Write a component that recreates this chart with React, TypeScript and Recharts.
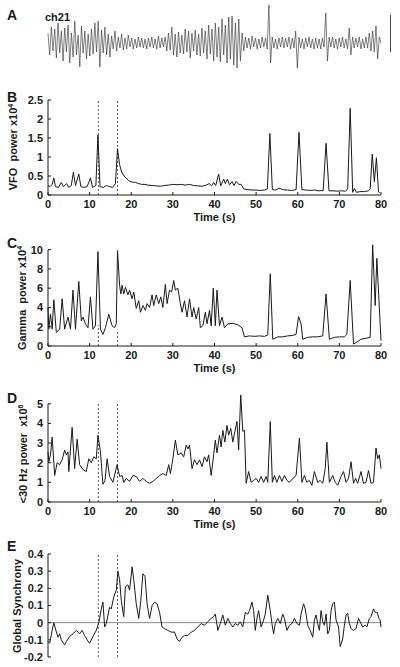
import React from 'react';
import { LineChart, Line, XAxis, YAxis, ReferenceLine } from 'recharts';

const FONT = '"Liberation Sans", Arial, Helvetica, sans-serif';
const INK = '#1a1a1a';

// panel A: ch21 raw trace, one sample every ~0.4 s
const rawTrace = [
  10, -12, 16, -8, 14, -15, 20, -10, 12, -18,
  15, -9, 18, -20, 10, -14, 22, -12, 8, -24,
  17, -10, 12, -16, 9, -13, 14, -11, 20, -9,
  22, -24, 13, -10, 16, -12, 9, -14, 7, -6,
  12, -8, 6, -5, 9, -7, 5, -6, 8, -4,
  5, -6, 4, -5, 6, -4, 5, -5, 4, -6,
  5, -4, 6, -5, 4, -6, 7, -5, 5, -4,
  6, -8, 10, -7, 16, -12, 9, -14, 11, -10,
  8, -11, 14, -9, 12, -15, 10, -8, 13, -12,
  9, -13, 15, -10, 12, -16, 18, -11, 14, -18,
  20, -14, 16, -19, 24, -12, 18, -20, 26, -16,
  27, -22, 20, -25, 24, -18, 10, -8, 6, -5,
  5, -6, 7, -4, 5, -6, 4, -5, 6, -4,
  5, -6, 38, -20, 6, -5, 4, -6, 5, -4,
  6, -5, 5, -4, 6, -6, 5, -5, 12, -25,
  6, -5, 4, -6, 5, -4, 6, -5, 4, -6,
  5, -5, 4, -6, 5, -4, 30, -18, 6, -4,
  6, -5, 4, -6, 5, -4, 6, -5, 4, -6,
  15, -12, 6, -5, 5, -4, 6, -6, 4, -5,
  6, -5, 10, -8, 12, -9, 17, -16, 6, 0,
];

const timeTicks = [0, 10, 20, 30, 40, 50, 60, 70, 80];
const markerTimes = [12.1, 16.7];

// B: VFO power (x10^4), [time s, value]
const vfoPower: [number, number][] = [
  [0, 0.25], [0.5, 0.22], [1, 0.28], [1.4, 0.45], [1.8, 0.22], [2.5, 0.2], [3.2, 0.33], [3.7, 0.22],
  [4.5, 0.3], [5, 0.2], [5.6, 0.25], [6.1, 0.6], [6.6, 0.25], [7.4, 0.55], [7.9, 0.22], [8.6, 0.2],
  [9.4, 0.22], [10.2, 0.45], [10.7, 0.2], [11.5, 0.25], [12.0, 1.58], [12.5, 0.22], [13.3, 0.2],
  [14, 0.25], [14.8, 0.22], [15.5, 0.2], [16.2, 0.3], [16.7, 1.22], [17.2, 0.8], [17.7, 0.6],
  [18.3, 0.5], [19, 0.42], [19.6, 0.36], [20.3, 0.34], [21, 0.33], [21.8, 0.3], [22.5, 0.28],
  [23.3, 0.28], [24, 0.26], [25, 0.25], [26, 0.24], [27, 0.23], [28, 0.25], [29, 0.26], [30, 0.28],
  [31, 0.27], [32, 0.28], [33, 0.26], [34, 0.28], [35, 0.25], [36, 0.24], [37, 0.23], [38, 0.26],
  [38.7, 0.3], [39.3, 0.24], [39.8, 0.33], [40.3, 0.25], [41, 0.55], [41.5, 0.24], [42.2, 0.42],
  [42.6, 0.3], [43.1, 0.42], [43.6, 0.27], [44.2, 0.35], [44.7, 0.25], [45.2, 0.36], [45.8, 0.28],
  [46.4, 0.28], [47, 0.16], [48, 0.14], [49, 0.13], [50, 0.13], [51, 0.12], [52, 0.13], [52.7, 0.16],
  [53.3, 1.62], [53.9, 0.14], [54.7, 0.13], [55.5, 0.18], [56.5, 0.14], [57.5, 0.13], [58.5, 0.12],
  [59.6, 0.14], [60.3, 1.65], [61, 0.14], [62, 0.13], [63, 0.12], [64, 0.13], [65, 0.11], [66.1, 0.12],
  [66.8, 1.36], [67.5, 0.11], [68.5, 0.11], [69.5, 0.1], [70.5, 0.11], [71.5, 0.1], [72.0, 0.16],
  [72.6, 2.28], [73.2, 0.07], [73.6, 0.17], [74.1, 0.07], [75, 0.09], [76, 0.09], [77, 0.11],
  [77.4, 0.16], [77.9, 1.08], [78.4, 0.35], [78.9, 0.98], [79.4, 0.08], [79.7, 0.06],
];

// C: gamma power (x10^4)
const gammaPower: [number, number][] = [
  [0, 4.0], [0.2, 1.75], [0.6, 3.3], [1, 1.75], [1.4, 4.8], [2, 1.4], [2.8, 1.75], [3.4, 4.9],
  [4, 1.75], [4.8, 3.0], [5.4, 1.75], [6, 5.8], [6.6, 1.75], [7.4, 6.7], [8, 2.6], [8.4, 3.0],
  [9, 2.3], [9.6, 1.9], [10.2, 5.1], [10.8, 1.75], [11.4, 2.1], [12, 9.8], [12.6, 1.75], [13.2, 1.2],
  [13.8, 1.9], [14.6, 3.3], [15.4, 2.1], [16, 1.9], [16.4, 2.3], [16.7, 9.9], [17.2, 6.3], [17.5, 5.4],
  [17.8, 6.3], [18.2, 5.4], [18.6, 6.1], [19.2, 5.3], [19.6, 5.8], [20.2, 4.9], [20.6, 5.6],
  [21.2, 3.9], [21.8, 4.7], [22.2, 3.5], [22.8, 4.2], [23.4, 3.7], [23.8, 4.4], [24.4, 4.0],
  [25, 5.3], [25.4, 4.2], [26, 5.3], [26.6, 4.4], [27.1, 5.1], [27.6, 4.0], [28.2, 6.4], [28.6, 4.4],
  [29.2, 5.8], [29.7, 5.6], [30.2, 6.8], [30.6, 5.8], [31.2, 6.0], [31.8, 4.4], [32.2, 3.5],
  [32.8, 4.7], [33.4, 3.0], [34, 4.9], [34.6, 3.0], [35, 4.0], [35.6, 2.8], [36.2, 4.0], [36.6, 1.9],
  [37.2, 2.1], [37.8, 3.5], [38.2, 2.3], [38.8, 3.7], [39.2, 2.1], [39.7, 6.0], [40.2, 2.1],
  [40.6, 5.8], [41.2, 2.1], [41.8, 3.0], [42.4, 1.9], [43.2, 2.3], [44.4, 2.35], [45.6, 2.2],
  [46.6, 1.9], [47.2, 0.95], [48.4, 1.05], [49.6, 1.0], [50.8, 1.05], [52, 1.0], [52.8, 1.15],
  [53.4, 7.5], [54, 0.7], [55.2, 0.95], [56.4, 0.95], [57.6, 1.05], [58.8, 1.1], [59.6, 1.2],
  [60.2, 3.05], [60.8, 2.3], [61.2, 0.7], [62.4, 0.9], [63.6, 0.95], [64.8, 0.95], [66, 1.05],
  [66.8, 5.4], [67.6, 0.7], [68.8, 0.9], [70, 0.95], [71.2, 0.95], [71.8, 1.2], [72.6, 6.8],
  [73.4, 0.2], [74, 0.35], [75.2, 0.7], [76.4, 0.8], [77.4, 0.9], [78, 10.5], [78.6, 4.2],
  [79, 9.1], [80, 0.55],
];

// D: <30 Hz power (x10^6)
const lowPower: [number, number][] = [
  [0, 2.55], [0.2, 2.05], [0.6, 2.4], [1.0, 3.3], [1.6, 1.35], [2.2, 2.0], [2.8, 1.9], [3.4, 2.15],
  [4.0, 2.65], [4.4, 2.4], [4.8, 2.55], [5.0, 1.55], [5.4, 2.7], [5.8, 3.8], [6.4, 1.7], [7.0, 3.2],
  [7.6, 1.9], [8.4, 1.65], [9.2, 1.55], [9.8, 2.2], [10.4, 2.0], [11, 2.3], [11.6, 2.2], [12.0, 3.4],
  [12.6, 2.55], [13.2, 0.9], [13.7, 1.1], [14.2, 2.2], [14.8, 1.3], [15.6, 1.0], [16.6, 1.9],
  [17.2, 1.3], [17.8, 1.35], [18.2, 1.0], [18.8, 1.2], [19.6, 1.05], [20.4, 1.35], [21.2, 1.3],
  [22, 1.05], [22.8, 1.2], [23.6, 1.05], [24.4, 0.95], [25.2, 1.05], [26, 1.2], [26.8, 1.35],
  [27.6, 1.45], [28.4, 1.35], [29, 1.9], [29.4, 1.45], [30, 2.2], [30.6, 3.15], [31.2, 2.4],
  [32, 2.5], [32.6, 2.3], [33.2, 2.9], [33.6, 2.7], [34, 2.9], [34.6, 1.7], [35.2, 2.15],
  [35.8, 1.9], [36.4, 2.15], [37, 1.8], [37.6, 2.3], [38.2, 2.05], [38.6, 2.4], [39.2, 1.35],
  [39.8, 2.4], [40.2, 3.15], [40.6, 2.5], [41.2, 3.4], [41.6, 2.8], [42, 3.65], [42.5, 3.05],
  [43, 3.9], [43.4, 3.4], [43.9, 3.75], [44.4, 3.05], [44.9, 3.6], [45.4, 4.1], [45.8, 2.65],
  [46.3, 5.45], [46.8, 3.6], [47.2, 3.65], [47.6, 0.95], [48.2, 1.55], [48.8, 1.0], [49.4, 1.1],
  [50, 1.2], [50.6, 1.0], [51.2, 1.3], [51.8, 1.0], [52.4, 1.3], [52.8, 1.0], [53.4, 4.1],
  [53.9, 1.0], [54.4, 1.35], [55, 1.0], [55.6, 1.35], [56.2, 1.05], [56.8, 1.35], [57.4, 1.1],
  [58, 1.0], [58.8, 1.2], [59.6, 1.35], [60.4, 3.25], [61, 1.0], [61.6, 1.35], [62.2, 1.0],
  [62.8, 1.1], [63.4, 0.85], [64, 1.55], [64.8, 1.0], [65.4, 1.1], [66, 0.95], [66.6, 1.7],
  [67, 3.05], [67.6, 1.0], [68.4, 1.35], [69, 1.0], [69.6, 0.85], [70.4, 1.3], [71, 1.55],
  [71.6, 1.0], [72.2, 1.2], [72.8, 2.05], [73.4, 0.95], [73.9, 1.2], [74.4, 0.95], [75.2, 1.55],
  [75.8, 0.95], [76.4, 1.0], [77, 1.6], [77.6, 0.95], [78.2, 1.0], [78.8, 2.75], [79.2, 2.2],
  [79.6, 2.4], [80, 1.7],
];

// E: global synchrony
const synchrony: [number, number][] = [
  [0, -0.11], [0.4, -0.12], [1, -0.045], [1.4, 0], [1.9, -0.045], [2.4, -0.085], [2.8, -0.065],
  [3.2, -0.1], [4, -0.13], [4.4, -0.11], [5.2, -0.08], [6, -0.065], [6.8, -0.045], [7.6, -0.065],
  [8.2, -0.045], [8.8, -0.075], [9.4, -0.1], [10, -0.12], [10.8, -0.08], [11.6, -0.045], [12.2, 0],
  [12.8, 0.08], [13.2, 0.12], [13.6, -0.025], [14, -0.005], [14.8, 0.09], [15.2, 0.08], [15.8, 0.15],
  [16.4, 0.19], [16.8, 0.3], [17.2, 0.25], [17.6, 0.13], [18.2, 0.035], [18.6, 0.21], [19.2, 0.22],
  [19.6, 0.19], [20.2, 0.325], [20.6, 0.25], [21.2, 0.11], [21.8, 0.025], [22.3, 0.13], [22.8, 0.285],
  [23.3, 0.27], [23.8, 0.11], [24.4, 0.025], [25, 0.1], [25.6, 0.12], [26.2, 0.11], [26.8, 0.06],
  [27.4, -0.025], [28, -0.035], [28.8, -0.045], [29.6, -0.055], [30.4, -0.055], [31, -0.095],
  [31.6, -0.11], [32.2, -0.085], [32.8, -0.075], [33.6, -0.075], [34.4, -0.055], [35.2, -0.045],
  [36, -0.025], [36.8, -0.005], [37.6, -0.015], [38.4, 0.005], [39.2, 0.025], [39.8, 0.035],
  [40.2, 0.05], [40.8, -0.045], [41.4, -0.005], [42, 0.045], [42.6, -0.015], [43.2, 0.025],
  [43.8, -0.005], [44.4, -0.025], [45, -0.005], [45.6, -0.015], [46.2, 0.005], [46.8, -0.025],
  [47.4, 0.06], [48, 0.05], [48.4, 0.07], [49, 0.12], [49.4, 0.07], [49.8, -0.045], [50.2, 0.025],
  [50.6, 0.07], [51.2, -0.025], [51.8, 0.015], [52.2, 0.05], [52.8, 0.16], [53.4, 0.07],
  [53.8, -0.005], [54.2, -0.065], [54.6, -0.005], [55.2, 0.025], [55.8, -0.005], [56.4, 0.05],
  [56.8, 0.025], [57.4, -0.045], [58, -0.015], [58.6, -0.005], [59.2, 0.025], [59.8, -0.005],
  [60.4, -0.015], [60.8, 0.05], [61.4, 0.11], [61.8, 0.08], [62.4, -0.015], [63, -0.045],
  [63.6, -0.085], [64, 0.015], [64.4, 0.045], [64.8, -0.005], [65.2, -0.045], [65.6, 0.07],
  [66, 0.005], [66.4, -0.015], [66.8, 0.05], [67.2, -0.065], [67.6, -0.045], [68, 0.07],
  [68.4, 0.11], [68.8, 0.12], [69.2, 0.015], [69.8, -0.025], [70.2, -0.14], [70.8, -0.095],
  [71.2, -0.015], [71.6, 0.045], [72, 0.055], [72.4, -0.005], [72.8, -0.035], [73.4, -0.045],
  [74, -0.035], [74.6, 0.025], [75, 0.005], [75.6, -0.025], [76.2, -0.015], [76.6, -0.025],
  [77.2, 0.025], [77.6, 0.035], [78.2, 0.08], [78.6, 0.06], [79.1, 0.06], [79.5, 0.025],
  [79.8, 0.015], [80, -0.025],
];

const toRows = (pairs: [number, number][]) => pairs.map(([t, v]) => ({ t, v }));

const tickStyle = { fontSize: 11, fontFamily: FONT, fontWeight: 'bold', fill: INK };

// recharts hands its own x/y to label content, so these use other names
const YLab = ({ lx, lcy, text, sup }: any) => (
  <text
    x={lx}
    y={lcy}
    transform={`rotate(-90 ${lx} ${lcy})`}
    textAnchor="middle"
    fontFamily={FONT}
    fontWeight="bold"
    fontSize={11}
    fill={INK}
    style={{ whiteSpace: 'pre' }}
  >
    {text}
    {sup && <tspan dy={-4} fontSize={7}>{sup}</tspan>}
  </text>
);

const TimeLab = ({ lcx, ly }: any) => (
  <text x={lcx} y={ly} textAnchor="middle" fontFamily={FONT} fontWeight="bold" fontSize={11} fill={INK}>
    Time (s)
  </text>
);

type PanelProps = {
  top: number;
  plotH: number;
  pairs: [number, number][];
  domain: [number, number];
  ticks: number[];
  fmt?: (v: number) => string;
  label: { x: number; cy: number; text: string; sup?: string };
  axisTop?: number;
  markerTops?: number[];
  showTime?: boolean;
  zeroLine?: boolean;
};

function TracePanel(p: PanelProps) {
  const bottom = p.showTime ? 35 : 10;
  const height = 10 + p.plotH + bottom;
  return (
    <div style={{ position: 'absolute', left: 0, top: p.top }}>
      <LineChart
        width={400}
        height={height}
        data={toRows(p.pairs)}
        margin={{ top: 10, right: 19, bottom: p.showTime ? 0 : 10, left: 0 }}
      >
        <XAxis
          dataKey="t"
          type="number"
          domain={[0, 80]}
          ticks={timeTicks}
          hide={!p.showTime}
          height={35}
          stroke={INK}
          tickSize={-3}
          tickMargin={8}
          tick={tickStyle}
          label={<TimeLab lcx={214.5} ly={10 + p.plotH + 26} />}
        />
        <YAxis
          type="number"
          domain={p.domain}
          ticks={p.ticks}
          tickFormatter={p.fmt}
          width={48}
          stroke={INK}
          axisLine={p.axisTop === undefined}
          tickSize={-3}
          tickMargin={8}
          tick={tickStyle}
          interval={0}
          label={<YLab lx={p.label.x} lcy={p.label.cy - p.top} text={p.label.text} sup={p.label.sup} />}
        />
        {p.axisTop !== undefined && (
          <ReferenceLine segment={[{ x: 0, y: p.domain[0] }, { x: 0, y: p.axisTop }]} stroke={INK} />
        )}
        {p.zeroLine && <ReferenceLine y={0} stroke="#8a8a8a" strokeWidth={1} />}
        {markerTimes.map((t, i) =>
          p.markerTops ? (
            <ReferenceLine
              key={t}
              segment={[{ x: t, y: p.domain[0] }, { x: t, y: p.markerTops[i] }]}
              stroke="#333"
              strokeWidth={0.8}
              strokeDasharray="2 2"
            />
          ) : (
            <ReferenceLine key={t} x={t} stroke="#333" strokeWidth={0.8} strokeDasharray="2 2" />
          )
        )}
        <Line
          type="linear"
          dataKey="v"
          stroke={INK}
          strokeWidth={1}
          dot={false}
          isAnimationActive={false}
        />
      </LineChart>
    </div>
  );
}

const letterStyle = (top: number): React.CSSProperties => ({
  position: 'absolute',
  left: 7,
  top,
  fontFamily: FONT,
  fontWeight: 'bold',
  fontSize: 14,
  lineHeight: '14px',
  color: INK,
});

export default function App() {
  const rawRows = rawTrace.map((v, i) => ({ i, v }));
  return (
    <div style={{ position: 'absolute', left: 0, top: 0, width: 400, height: 667, background: '#fff' }}>
      <div style={letterStyle(8)}>A</div>
      <div
        style={{
          position: 'absolute', left: 45, top: 11, fontFamily: FONT, fontWeight: 'bold',
          fontSize: 11, lineHeight: '12px', color: INK,
        }}
      >
        ch21
      </div>
      <div style={{ position: 'absolute', left: 0, top: 0 }}>
        <LineChart width={400} height={75} data={rawRows} margin={{ top: 3, right: 19, bottom: 2, left: 48 }}>
          <XAxis dataKey="i" type="number" domain={[0, rawTrace.length - 1]} hide />
          <YAxis type="number" domain={[-30, 40]} hide />
          <Line type="linear" dataKey="v" stroke="#2a2a2a" strokeWidth={0.6} dot={false} isAnimationActive={false} />
        </LineChart>
      </div>
      <div style={{ position: 'absolute', left: 390, top: 15, width: 1, height: 37, background: '#444' }} />

      <div style={letterStyle(90)}>B</div>
      <TracePanel
        top={90}
        plotH={95}
        pairs={vfoPower}
        domain={[0, 2.5]}
        ticks={[0, 0.5, 1, 1.5, 2, 2.5]}
        label={{ x: 17, cy: 147, text: 'VFO  power x10', sup: '4' }}
        showTime
      />

      <div style={letterStyle(236)}>C</div>
      <TracePanel
        top={230}
        plotH={106}
        pairs={gammaPower}
        domain={[0, 11]}
        ticks={[0, 2, 4, 6, 8, 10]}
        axisTop={10}
        markerTops={[2.2, 1.7]}
        label={{ x: 26, cy: 298, text: 'Gamma  power x10', sup: '4' }}
        showTime
      />

      <div style={letterStyle(391)}>D</div>
      <TracePanel
        top={382}
        plotH={110}
        pairs={lowPower}
        domain={[0, 5.6]}
        ticks={[0, 1, 2, 3, 4, 5]}
        axisTop={5}
        markerTops={[5, 5]}
        label={{ x: 27, cy: 454, text: '<30 Hz power  x10', sup: '6' }}
        showTime
      />

      <div style={letterStyle(539)}>E</div>
      <TracePanel
        top={544}
        plotH={103}
        pairs={synchrony}
        domain={[-0.2, 0.4]}
        ticks={[-0.2, -0.1, 0, 0.1, 0.2, 0.3, 0.4]}
        fmt={(v) => (v === 0 ? '0' : v.toFixed(1))}
        label={{ x: 21, cy: 606, text: 'Global Synchrony' }}
        zeroLine
      />
    </div>
  );
}
